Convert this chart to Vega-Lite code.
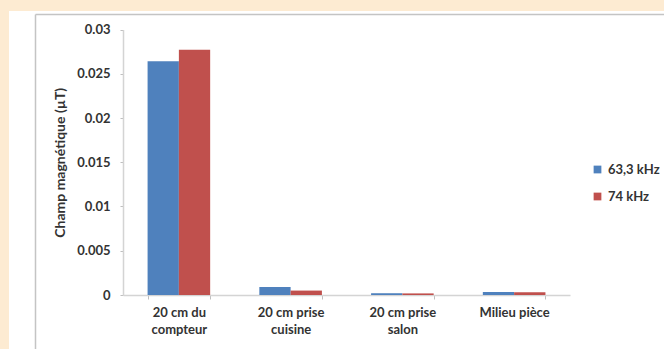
{
  "$schema": "https://vega.github.io/schema/vega-lite/v6.json",
  "autosize": {"type": "none"},
  "width": 655,
  "height": 338,
  "padding": {"left": 9, "top": 11, "right": 0, "bottom": 0},
  "background": "#fdebd2",
  "config": {
    "view": {"fill": "#ffffff", "stroke": null},
    "font": "Lato",
    "axis": {
      "labelFont": "Lato",
      "labelFontWeight": "bold",
      "labelColor": "#333333",
      "labelFontSize": 13,
      "titleFont": "Lato",
      "titleFontWeight": "bold",
      "titleColor": "#333333",
      "titleFontSize": 14,
      "gridColor": "#d4d4d4",
      "gridWidth": 1.5,
      "domainColor": "#d4d4d4",
      "domainWidth": 1.5,
      "tickColor": "#bfbfbf"
    },
    "legend": {
      "labelFont": "Lato",
      "labelFontWeight": "bold",
      "labelColor": "#333333",
      "labelFontSize": 13
    }
  },
  "data": {
    "values": [
      {"lieu": "20 cm du compteur", "frequence": "63,3 kHz", "champ": 0.0264},
      {"lieu": "20 cm du compteur", "frequence": "74 kHz", "champ": 0.0277},
      {"lieu": "20 cm prise cuisine", "frequence": "63,3 kHz", "champ": 0.0009},
      {"lieu": "20 cm prise cuisine", "frequence": "74 kHz", "champ": 0.0005},
      {"lieu": "20 cm prise salon", "frequence": "63,3 kHz", "champ": 0.0002},
      {"lieu": "20 cm prise salon", "frequence": "74 kHz", "champ": 0.00018},
      {"lieu": "Milieu pièce", "frequence": "63,3 kHz", "champ": 0.00035},
      {"lieu": "Milieu pièce", "frequence": "74 kHz", "champ": 0.0003}
    ]
  },
  "layer": [
    {
      "mark": {"type": "point", "opacity": 0},
      "encoding": {
        "x": {
          "field": "champ",
          "type": "quantitative",
          "scale": {"domain": [0, 1], "range": [26, 655], "nice": false},
          "axis": {
            "orient": "top",
            "offset": -3,
            "title": null,
            "labels": false,
            "ticks": false,
            "grid": false,
            "domainColor": "#c4c4c4",
            "domainWidth": 1.5
          }
        },
        "y": {
          "field": "champ",
          "type": "quantitative",
          "scale": {"domain": [0, 1], "range": [338, 3], "nice": false},
          "axis": {
            "orient": "left",
            "offset": -26,
            "title": null,
            "labels": false,
            "ticks": false,
            "grid": false,
            "domainColor": "#c4c4c4",
            "domainWidth": 1.5
          }
        }
      }
    },
    {
      "mark": {"type": "bar"},
      "encoding": {
        "x": {
          "field": "lieu",
          "type": "nominal",
          "sort": null,
          "scale": {"range": [114, 561], "paddingInner": 0.44, "paddingOuter": 0.22},
          "axis": {
            "title": null,
            "orient": "bottom",
            "offset": -54,
            "labelAngle": 0,
            "tickBand": "extent",
            "tickSize": 4,
            "labelPadding": 7,
            "labelLineHeight": 17,
            "labelExpr": "split(replace(datum.label, regexp('(du|prise) '), '$1|'), '|')"
          }
        },
        "xOffset": {
          "field": "frequence",
          "type": "nominal",
          "scale": {"paddingInner": 0, "paddingOuter": 0}
        },
        "y": {
          "field": "champ",
          "type": "quantitative",
          "scale": {"domain": [0, 0.03], "range": [284, 18.5], "nice": false, "zero": true},
          "axis": {
            "title": "Champ magnétique (µT)",
            "orient": "left",
            "offset": -114,
            "values": [0, 0.005, 0.01, 0.015, 0.02, 0.025, 0.03],
            "format": "~g",
            "tickSize": 3,
            "labelPadding": 10,
            "titlePadding": 9
          }
        },
        "color": {
          "field": "frequence",
          "type": "nominal",
          "scale": {"range": ["#4f81bd", "#c0504d"]},
          "legend": {
            "title": null,
            "orient": "none",
            "legendX": 582,
            "legendY": 152,
            "symbolType": "square",
            "symbolSize": 60,
            "symbolStrokeWidth": 0,
            "rowPadding": 13,
            "labelOffset": 4
          }
        }
      }
    }
  ],
  "resolve": {"scale": {"x": "independent", "y": "independent"}}
}
